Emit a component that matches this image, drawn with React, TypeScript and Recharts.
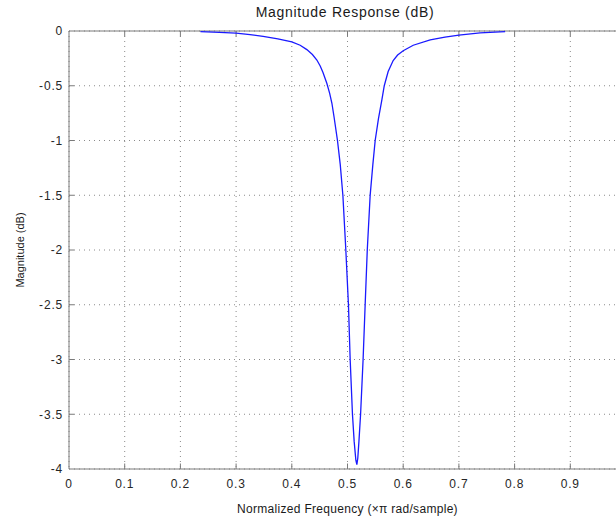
import { LineChart, Line, XAxis, YAxis, CartesianGrid, ReferenceLine } from 'recharts';

const freq = [
  0.236, 0.27, 0.3, 0.325, 0.3485, 0.375, 0.4, 0.415, 0.427, 0.437, 0.445, 0.451, 0.456,
  0.463, 0.468, 0.472, 0.476, 0.482, 0.487, 0.4917, 0.497, 0.5017, 0.5048, 0.5089, 0.512,
  0.515, 0.5168, 0.5185, 0.5205, 0.5235, 0.528, 0.5317, 0.5355, 0.5407, 0.5455, 0.5497,
  0.5556, 0.5617, 0.566, 0.573, 0.582, 0.59, 0.6, 0.618, 0.6485, 0.675, 0.7, 0.738, 0.783,
];

const magnitude = [
  -0.005, -0.012, -0.02, -0.033, -0.05, -0.072, -0.1, -0.13, -0.17, -0.215, -0.265, -0.32, -0.38,
  -0.48, -0.57, -0.66, -0.79, -1.0, -1.22, -1.5, -2.0, -2.5, -3.0, -3.5, -3.75,
  -3.92, -3.96, -3.9, -3.75, -3.5, -3.0, -2.5, -2.0, -1.5, -1.22, -1.0,
  -0.8, -0.63, -0.5, -0.37, -0.27, -0.22, -0.18, -0.13, -0.08, -0.055, -0.037, -0.018, -0.005,
];

// the plot runs to 1.0 just past the right edge of the window, so that tick is not drawn
const xTicks = [0, 0.1, 0.2, 0.3, 0.4, 0.5, 0.6, 0.7, 0.8, 0.9];
const yTicks = [0, -0.5, -1, -1.5, -2, -2.5, -3, -3.5, -4];

const data = freq.map((f, i) => ({ f, db: magnitude[i] }));

const font = '"Liberation Sans", Arial, Helvetica, sans-serif';
const axisColor = '#7a7a7a';
const tickStyle = { fontSize: 12, fill: '#262626', fontFamily: font, letterSpacing: 0.8 };

export default function App() {
  return (
    <div style={{ position: 'absolute', left: 0, top: 0, width: 616, height: 522, overflow: 'hidden', background: '#fff' }}>
      <div
        style={{
          position: 'absolute', left: 245, top: 5, width: 200, textAlign: 'center',
          fontFamily: font, fontSize: 14, lineHeight: '14px', letterSpacing: 0.7, color: '#1a1a1a',
          whiteSpace: 'nowrap',
        }}
      >
        Magnitude Response (dB)
      </div>
      <div style={{ position: 'absolute', left: 0, top: 0 }}>
        <LineChart width={640} height={522} data={data} margin={{ top: 31, right: 14, bottom: 0, left: 9 }}>
          <CartesianGrid stroke="#8a8a8a" strokeDasharray="1 4" />
          <XAxis
            dataKey="f"
            type="number"
            domain={[0, 1]}
            ticks={xTicks}
            height={53}
            tickLine={false}
            tickSize={0}
            tickMargin={10}
            axisLine={{ stroke: axisColor }}
            tick={tickStyle}
            label={{
              value: 'Normalized Frequency (\u00d7\u03c0 rad/sample)',
              position: 'insideBottom',
              offset: 9,
              style: { fontSize: 12, fill: '#1a1a1a', fontFamily: font, letterSpacing: 0.3 },
            }}
          />
          <YAxis
            type="number"
            domain={[-4, 0]}
            ticks={yTicks}
            width={60}
            tickLine={false}
            tickSize={0}
            tickMargin={6}
            axisLine={{ stroke: axisColor }}
            tick={tickStyle}
            tickFormatter={(v: number) => String(v)}
            label={{
              value: 'Magnitude (dB)',
              angle: -90,
              position: 'insideLeft',
              offset: 11,
              style: { fontSize: 11, fill: '#1a1a1a', fontFamily: font, textAnchor: 'middle' },
            }}
          />
          <ReferenceLine y={0} stroke={axisColor} />
          {xTicks.slice(1).map((t) => (
            <ReferenceLine key={'b' + t} segment={[{ x: t, y: -4 }, { x: t, y: -3.95 }]} stroke={axisColor} />
          ))}
          {xTicks.slice(1).map((t) => (
            <ReferenceLine key={'t' + t} segment={[{ x: t, y: 0 }, { x: t, y: -0.05 }]} stroke={axisColor} />
          ))}
          {yTicks.slice(1, -1).map((t) => (
            <ReferenceLine key={'l' + t} segment={[{ x: 0, y: t }, { x: 0.009, y: t }]} stroke={axisColor} />
          ))}
          <Line
            type="linear"
            dataKey="db"
            stroke="#1a1aff"
            strokeWidth={1.3}
            dot={false}
            isAnimationActive={false}
          />
        </LineChart>
      </div>
    </div>
  );
}
